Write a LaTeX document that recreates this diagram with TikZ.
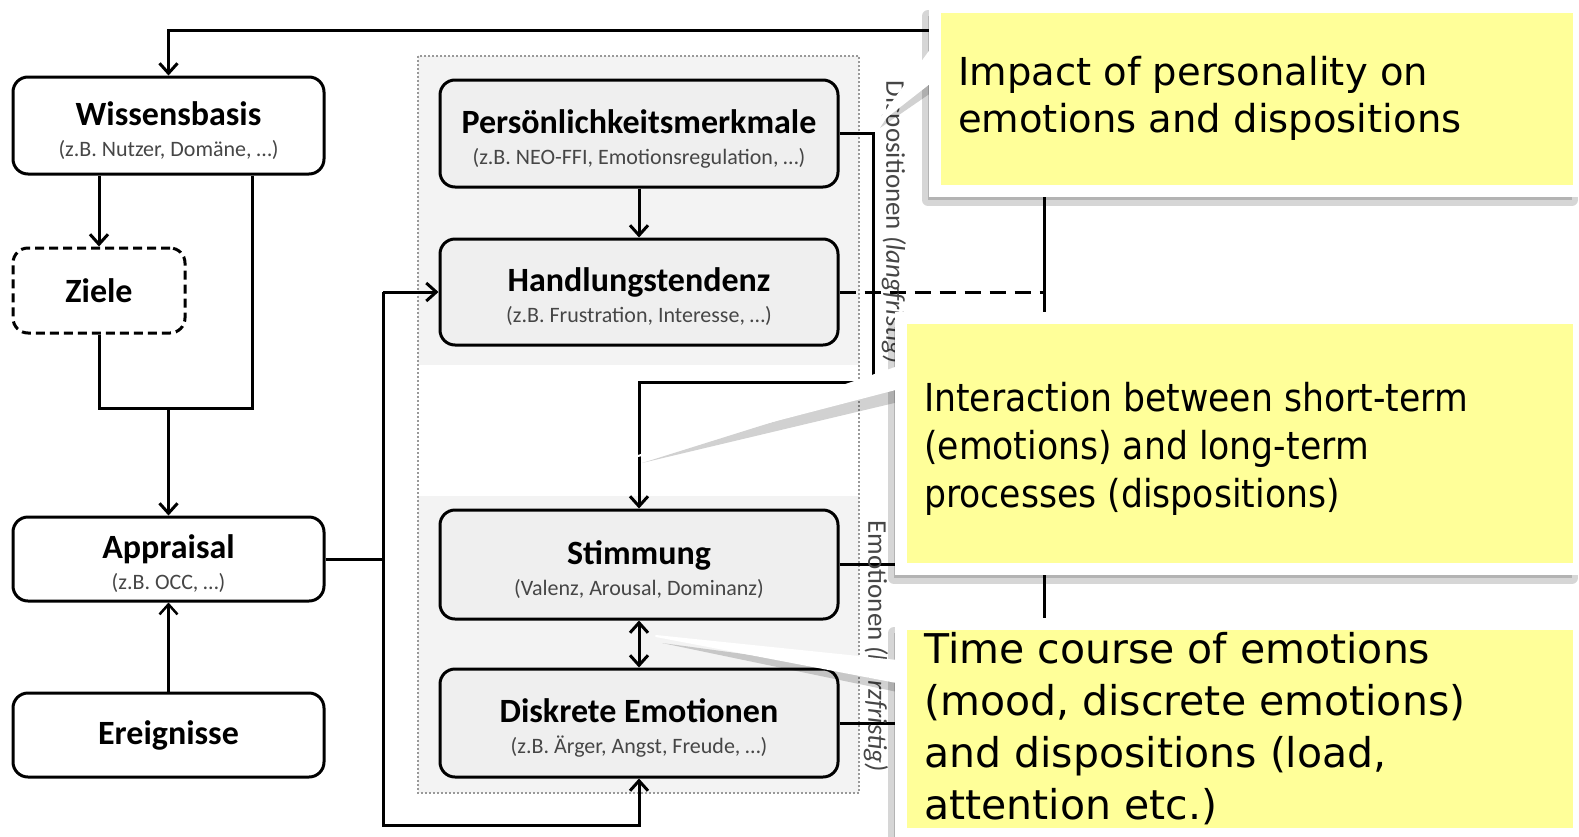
\documentclass[tikz,border=0pt]{standalone}
\usepackage{fontspec}
\setmainfont{Carlito}
\newfontfamily\calloutfont{DejaVu Sans}
\newfontfamily\calloutnarrow[FakeStretch=0.9]{DejaVu Sans}
\usetikzlibrary{arrows.meta,calc}

\definecolor{notebg}{RGB}{255,255,153}
\definecolor{panelgray}{RGB}{243,243,243}
\definecolor{boxgray}{RGB}{239,239,239}
\definecolor{subgray}{RGB}{70,70,70}

% bold title with a grey example line underneath
\newcommand\twoline[2]{\rule{0pt}{34pt}#1\\[-5pt]{\fontsize{22}{26}\selectfont\mdseries\color{subgray}#2}}

\begin{document}
\begin{tikzpicture}[x=1pt,y=-1pt,
  base box/.style={draw=black, line width=3pt, rounded corners=15pt, inner sep=0pt,
    align=center, font=\fontsize{34}{36}\selectfont\bfseries},
  plain box/.style={base box, fill=white, minimum width=311pt},
  inner box/.style={base box, fill=boxgray, minimum width=398pt},
  conn/.style={line width=3pt, draw=black},
  arr/.style={-{Straight Barb[length=10pt,width=18pt]}},
  biarr/.style={{Straight Barb[length=10pt,width=18pt]}-{Straight Barb[length=10pt,width=18pt]}},
  side label/.style={rotate=-90, inner sep=0pt, text=subgray, font=\fontsize{27}{30}\selectfont},
  note shadow/.style={fill=black, draw=black, opacity=0.16, line width=12pt, line join=round},
  note body/.style={fill=notebg, draw=white, line width=12pt, line join=miter},
  note tail/.style={fill=white, draw=white, line width=2pt, line join=round},
  tail shadow/.style={fill=black, opacity=0.18},
  note text/.style={anchor=north west, inner sep=0pt, align=left, text=black}
]
\useasboundingbox (0,0) rectangle (1579,836);
\fill[white] (0,0) rectangle (1579,836);

% shaded panels and dotted frame of the disposition/emotion block
\fill[panelgray] (418,56) rectangle (859,365);
\fill[panelgray] (418,496) rectangle (859,793);
\draw[gray!80, line width=2pt, dash pattern=on 2pt off 2pt] (418,56) rectangle (859,793);

% boxes on the left
\node[plain box, minimum height=97pt] (wiss) at (168.5,125.5)
  {\twoline{Wissensbasis}{(z.B. Nutzer, Domäne, …)}};
\node[base box, fill=white, dashed, dash pattern=on 9pt off 5pt, minimum width=172pt, minimum height=85pt] (ziele) at (99,290.5) {Ziele};
\node[plain box, minimum height=84pt] (appr) at (168.5,559)
  {\twoline{Appraisal}{(z.B. OCC, …)}};
\node[plain box, minimum height=84pt] (ereig) at (168.5,735) {Ereignisse};

% boxes in the block
\node[inner box, minimum height=107pt] (pers) at (639,133.5)
  {\twoline{Persönlichkeitsmerkmale}{(z.B. NEO-FFI, Emotionsregulation, …)}};
\node[inner box, minimum height=106pt] (handl) at (639,292)
  {\twoline{Handlungstendenz}{(z.B. Frustration, Interesse, …)}};
\node[inner box, minimum height=109pt] (stimm) at (639,564.5)
  {\twoline{Stimmung}{(Valenz, Arousal, Dominanz)}};
\node[inner box, minimum height=108pt] (diskr) at (639,723)
  {\twoline{Diskrete Emotionen}{(z.B. Ärger, Angst, Freude, …)}};

% routing points
\coordinate (wr) at (252,408);
\coordinate (lb) at (383,825);
\coordinate (pr) at (873,382);
\coordinate (rb) at (1044,30);

% left column connectors
\draw[conn, arr] (ziele.north |- wiss.south) -- (ziele.north);
\draw[conn] (wr |- wiss.south) -- (wr) -- (ziele.south |- wr) -- (ziele.south);
\draw[conn, arr] (appr.north |- wr) -- (appr.north);
\draw[conn, line width=2.5pt, arr] (ereig.north) -- (appr.south);

% appraisal feeding the block
\draw[conn] (appr.east) -- (lb |- appr.east);
\draw[conn, arr] (lb |- handl.west) -- (handl.west);
\draw[conn, arr] (lb |- handl.west) -- (lb) -- (diskr.south |- lb) -- (diskr.south);

% inside the block
\draw[conn, arr] (pers.south) -- (handl.north);
\draw[conn, arr] (pers.east |- 0,133) -- (pr |- 0,133) -- (pr) -- (stimm.north |- pr) -- (stimm.north);
\draw[conn, biarr] (stimm.south) -- (diskr.north);

% feedback bus to the knowledge base
\draw[conn, arr] (diskr.east) -- (rb |- diskr.east) -- (rb) -- (wiss.north |- rb) -- (wiss.north);
\draw[conn] (stimm.east) -- (rb |- stimm.east);
\draw[conn, dash pattern=on 16pt off 9pt] (handl.east) -- (rb |- handl.east);

% rotated side labels
\node[side label] (displabel) at (894,222) {Dispositionen \textit{(langfristig)}};
\node[side label] (emolabel) at (876,646) {Emotionen \textit{(kurzfristig)}};

% callout 1
\fill[tail shadow] (932,48) -- (880,128) -- (941,86) -- cycle;
\draw[note shadow, shift={(-7,9)}] (935,7) rectangle (1579,191);
\draw[note tail] (941,36) -- (877,124) -- (941,74) -- cycle;
\draw[note body] (935,7) rectangle (1579,191);
\node[note text, font=\calloutfont\fontsize{38.5}{47}\selectfont] (note1) at (958,56)
  {Impact of personality on\\emotions and dispositions};

% callout 2
\fill[tail shadow] (907,380) -- (642,463) -- (907,400) -- cycle;
\draw[note shadow, shift={(-7,9)}] (901,318) rectangle (1579,569);
\draw[note tail] (907,364) -- (638,456) -- (907,386) -- cycle;
\draw[note body] (901,318) rectangle (1579,569);
\node[note text, font=\calloutnarrow\fontsize{38.5}{48}\selectfont] (note2) at (924,382)
  {Interaction between short-term\\(emotions) and long-term\\processes (dispositions)};

% callout 3
\fill[tail shadow] (662,643) -- (907,676) -- (907,694) -- cycle;
\draw[note shadow, shift={(-7,9)}] (901,624) rectangle (1579,834);
\draw[note tail] (907,662) -- (656,636) -- (907,684) -- cycle;
\draw[note body] (901,624) rectangle (1579,834);
\node[note text, font=\calloutfont\fontsize{41}{52}\selectfont] (note3) at (924,632)
  {Time course of emotions\\(mood, discrete emotions)\\and dispositions (load,\\attention etc.)};
\end{tikzpicture}
\end{document}
